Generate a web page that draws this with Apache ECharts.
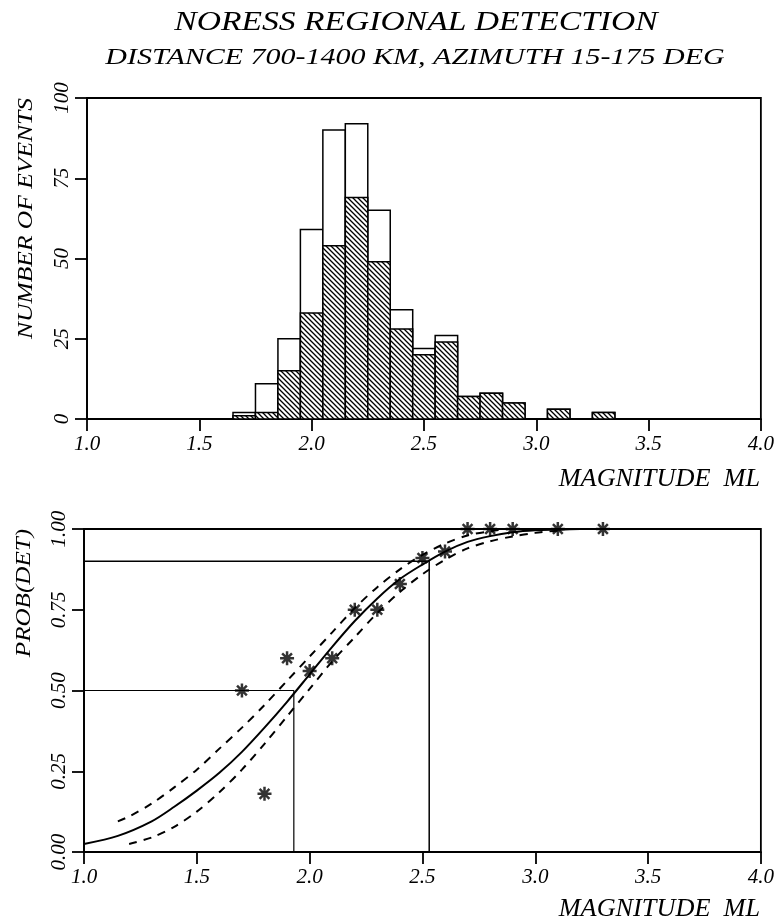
<!DOCTYPE html>
<html>
<head>
<meta charset="utf-8">
<script src="https://cdn.jsdelivr.net/npm/echarts@6.0.0/dist/echarts.min.js"></script>
<style>
  html, body { margin: 0; padding: 0; background: #fff; }
  #chart { width: 777px; height: 922px; }
</style>
</head>
<body>
<div id="chart"></div>
<script>
// histogram: bin centres (magnitude ML) and event counts
const binCenters = [1.7, 1.8, 1.9, 2.0, 2.1, 2.2, 2.3, 2.4, 2.5, 2.6, 2.7, 2.8, 2.9, 3.0, 3.1, 3.2, 3.3];
const totalCounts = [2, 11, 25, 59, 90, 92, 65, 34, 22, 26, 7, 8, 5, 0, 3, 0, 2];
const detectedCounts = [1, 2, 15, 33, 54, 69, 49, 28, 20, 24, 7, 8, 5, 0, 3, 0, 2];
const BIN_WIDTH = 0.1;

// observed detection probability per bin
const probMag = [1.7, 1.8, 1.9, 2.0, 2.1, 2.2, 2.3, 2.4, 2.5, 2.6, 2.7, 2.8, 2.9, 3.1, 3.3];
const probObs = [0.50, 0.18, 0.60, 0.56, 0.60, 0.75, 0.75, 0.83, 0.91, 0.93, 1.0, 1.0, 1.0, 1.0, 1.0];

// fitted curve
const fitMag = [1.0, 1.15, 1.3, 1.4, 1.5, 1.6, 1.7, 1.8, 1.9, 2.0, 2.1, 2.2, 2.3, 2.4, 2.5, 2.6, 2.7, 2.8, 2.9, 3.0, 3.1, 3.2, 3.4, 4.0];
const fitProb = [0.025, 0.050, 0.095, 0.140, 0.190, 0.245, 0.310, 0.385, 0.465, 0.550, 0.635, 0.715, 0.785, 0.845, 0.890, 0.930, 0.960, 0.978, 0.990, 0.996, 0.998, 1.0, 1.0, 1.0];

// upper and lower confidence curves (dashed)
const upperMag = [1.15, 1.2, 1.3, 1.4, 1.5, 1.6, 1.7, 1.8, 1.9, 2.0, 2.1, 2.2, 2.3, 2.4, 2.5, 2.6, 2.7, 2.8, 2.9, 3.0];
const upperProb = [0.095, 0.110, 0.150, 0.200, 0.255, 0.320, 0.385, 0.455, 0.530, 0.605, 0.680, 0.755, 0.820, 0.875, 0.920, 0.955, 0.980, 0.993, 1.0, 1.0];
const lowerMag = [1.2, 1.3, 1.4, 1.5, 1.6, 1.7, 1.8, 1.9, 2.0, 2.1, 2.2, 2.3, 2.4, 2.5, 2.6, 2.7, 2.8, 2.9, 3.0, 3.1];
const lowerProb = [0.025, 0.045, 0.078, 0.125, 0.185, 0.255, 0.335, 0.420, 0.505, 0.590, 0.665, 0.740, 0.805, 0.860, 0.905, 0.940, 0.962, 0.977, 0.988, 0.995];

// 50% and 90% detection levels
const p50 = [[1.0, 0.5], [1.93, 0.5], [1.93, 0.0]];
const p90 = [[1.0, 0.9], [2.53, 0.9], [2.53, 0.0]];

const FONT = '"Liberation Serif", "DejaVu Serif", serif';

// hatch pattern for detected events
const hatch = document.createElement('canvas');
hatch.width = 5; hatch.height = 5;
(function () {
  const c = hatch.getContext('2d');
  c.fillStyle = '#fff';
  c.fillRect(0, 0, 5, 5);
  c.strokeStyle = '#000';
  c.lineWidth = 1.3;
  c.beginPath();
  c.moveTo(-1, -1); c.lineTo(6, 6);
  c.moveTo(-1, 4); c.lineTo(1, 6);
  c.moveTo(4, -1); c.lineTo(6, 1);
  c.stroke();
})();

function barRenderer(fill) {
  return function (params, api) {
    const x = api.value(0);
    const n = api.value(1);
    const p0 = api.coord([x - BIN_WIDTH / 2, n]);
    const p1 = api.coord([x + BIN_WIDTH / 2, 0]);
    return {
      type: 'rect',
      shape: { x: p0[0], y: p0[1], width: p1[0] - p0[0], height: p1[1] - p0[1] },
      style: { fill: fill, stroke: '#000', lineWidth: 1.5 }
    };
  };
}

const axisCommon = {
  axisLine: { lineStyle: { color: '#000', width: 1.8 } },
  axisTick: { length: 12, lineStyle: { color: '#000', width: 1.8 } },
  splitLine: { show: false }
};

const xAxisBase = (grid) => Object.assign({}, axisCommon, {
  gridIndex: grid, type: 'value', min: 1, max: 4, interval: 0.5,
  axisLabel: {
    formatter: v => v.toFixed(1), color: '#000', fontFamily: FONT,
    fontStyle: 'italic', fontSize: 21, margin: 15
  }
});

const asterisk = 'path://M6,0L6,12M0,6L12,6M1.8,1.8L10.2,10.2M1.8,10.2L10.2,1.8';

const option = {
  animation: false,
  backgroundColor: '#fff',
  grid: [
    { left: 87, top: 98, width: 676, height: 321, show: true, borderColor: '#000', borderWidth: 1.8 },
    { left: 84, top: 529, width: 679, height: 323, show: true, borderColor: '#000', borderWidth: 1.8 }
  ],
  xAxis: [xAxisBase(0), xAxisBase(1)],
  yAxis: [
    Object.assign({}, axisCommon, {
      gridIndex: 0, type: 'value', min: 0, max: 100, interval: 25,
      axisLabel: { rotate: 90, color: '#000', fontFamily: FONT, fontStyle: 'italic', fontSize: 21, margin: 14 }
    }),
    Object.assign({}, axisCommon, {
      gridIndex: 1, type: 'value', min: 0, max: 1, interval: 0.25,
      axisLabel: { rotate: 90, formatter: v => v.toFixed(2), color: '#000', fontFamily: FONT, fontStyle: 'italic', fontSize: 21, margin: 14 }
    })
  ],
  graphic: [
    { type: 'text', x: 416, y: 23, scaleX: 1.2, style: { text: 'NORESS REGIONAL DETECTION', font: 'italic 28px ' + FONT, fill: '#000', align: 'center', verticalAlign: 'middle' } },
    { type: 'text', x: 415, y: 58, scaleX: 1.25, style: { text: 'DISTANCE 700-1400 KM, AZIMUTH 15-175 DEG', font: 'italic 24px ' + FONT, fill: '#000', align: 'center', verticalAlign: 'middle' } },
    { type: 'text', x: 26, y: 98, rotation: Math.PI / 2, scaleX: 1.16, style: { text: 'NUMBER OF EVENTS', font: 'italic 22px ' + FONT, fill: '#000', align: 'right', verticalAlign: 'middle' } },
    { type: 'text', x: 24, y: 529, rotation: Math.PI / 2, scaleX: 1.14, style: { text: 'PROB(DET)', font: 'italic 22px ' + FONT, fill: '#000', align: 'right', verticalAlign: 'middle' } },
    { type: 'text', x: 760, y: 479, scaleX: 1.05, style: { text: 'MAGNITUDE  ML', font: 'italic 25px ' + FONT, fill: '#000', align: 'right', verticalAlign: 'middle' } },
    { type: 'text', x: 760, y: 909, scaleX: 1.05, style: { text: 'MAGNITUDE  ML', font: 'italic 25px ' + FONT, fill: '#000', align: 'right', verticalAlign: 'middle' } }
  ],
  series: [
    {
      type: 'custom', xAxisIndex: 0, yAxisIndex: 0,
      data: binCenters.map((x, i) => [x, totalCounts[i]]),
      renderItem: barRenderer('#fff')
    },
    {
      type: 'custom', xAxisIndex: 0, yAxisIndex: 0,
      data: binCenters.map((x, i) => [x, detectedCounts[i]]),
      renderItem: barRenderer({ image: hatch, repeat: 'repeat' })
    },
    {
      type: 'line', xAxisIndex: 1, yAxisIndex: 1, symbol: 'none',
      data: p50, lineStyle: { color: '#000', width: 1.2 }
    },
    {
      type: 'line', xAxisIndex: 1, yAxisIndex: 1, symbol: 'none',
      data: p90, lineStyle: { color: '#000', width: 1.5 }
    },
    {
      type: 'line', xAxisIndex: 1, yAxisIndex: 1, symbol: 'none', smooth: 0.3,
      data: fitMag.map((x, i) => [x, fitProb[i]]),
      lineStyle: { color: '#000', width: 2 }
    },
    {
      type: 'line', xAxisIndex: 1, yAxisIndex: 1, symbol: 'none', smooth: 0.3,
      data: upperMag.map((x, i) => [x, upperProb[i]]),
      lineStyle: { color: '#000', width: 2, type: [8, 7] }
    },
    {
      type: 'line', xAxisIndex: 1, yAxisIndex: 1, symbol: 'none', smooth: 0.3,
      data: lowerMag.map((x, i) => [x, lowerProb[i]]),
      lineStyle: { color: '#000', width: 2, type: [8, 7] }
    },
    {
      type: 'scatter', xAxisIndex: 1, yAxisIndex: 1,
      symbol: asterisk, symbolSize: 14,
      data: probMag.map((x, i) => [x, probObs[i]]),
      itemStyle: { color: '#000', borderColor: '#000', borderWidth: 2.5 }
    }
  ]
};

const chart = echarts.init(document.getElementById('chart'));
chart.setOption(option);
</script>
</body>
</html>
